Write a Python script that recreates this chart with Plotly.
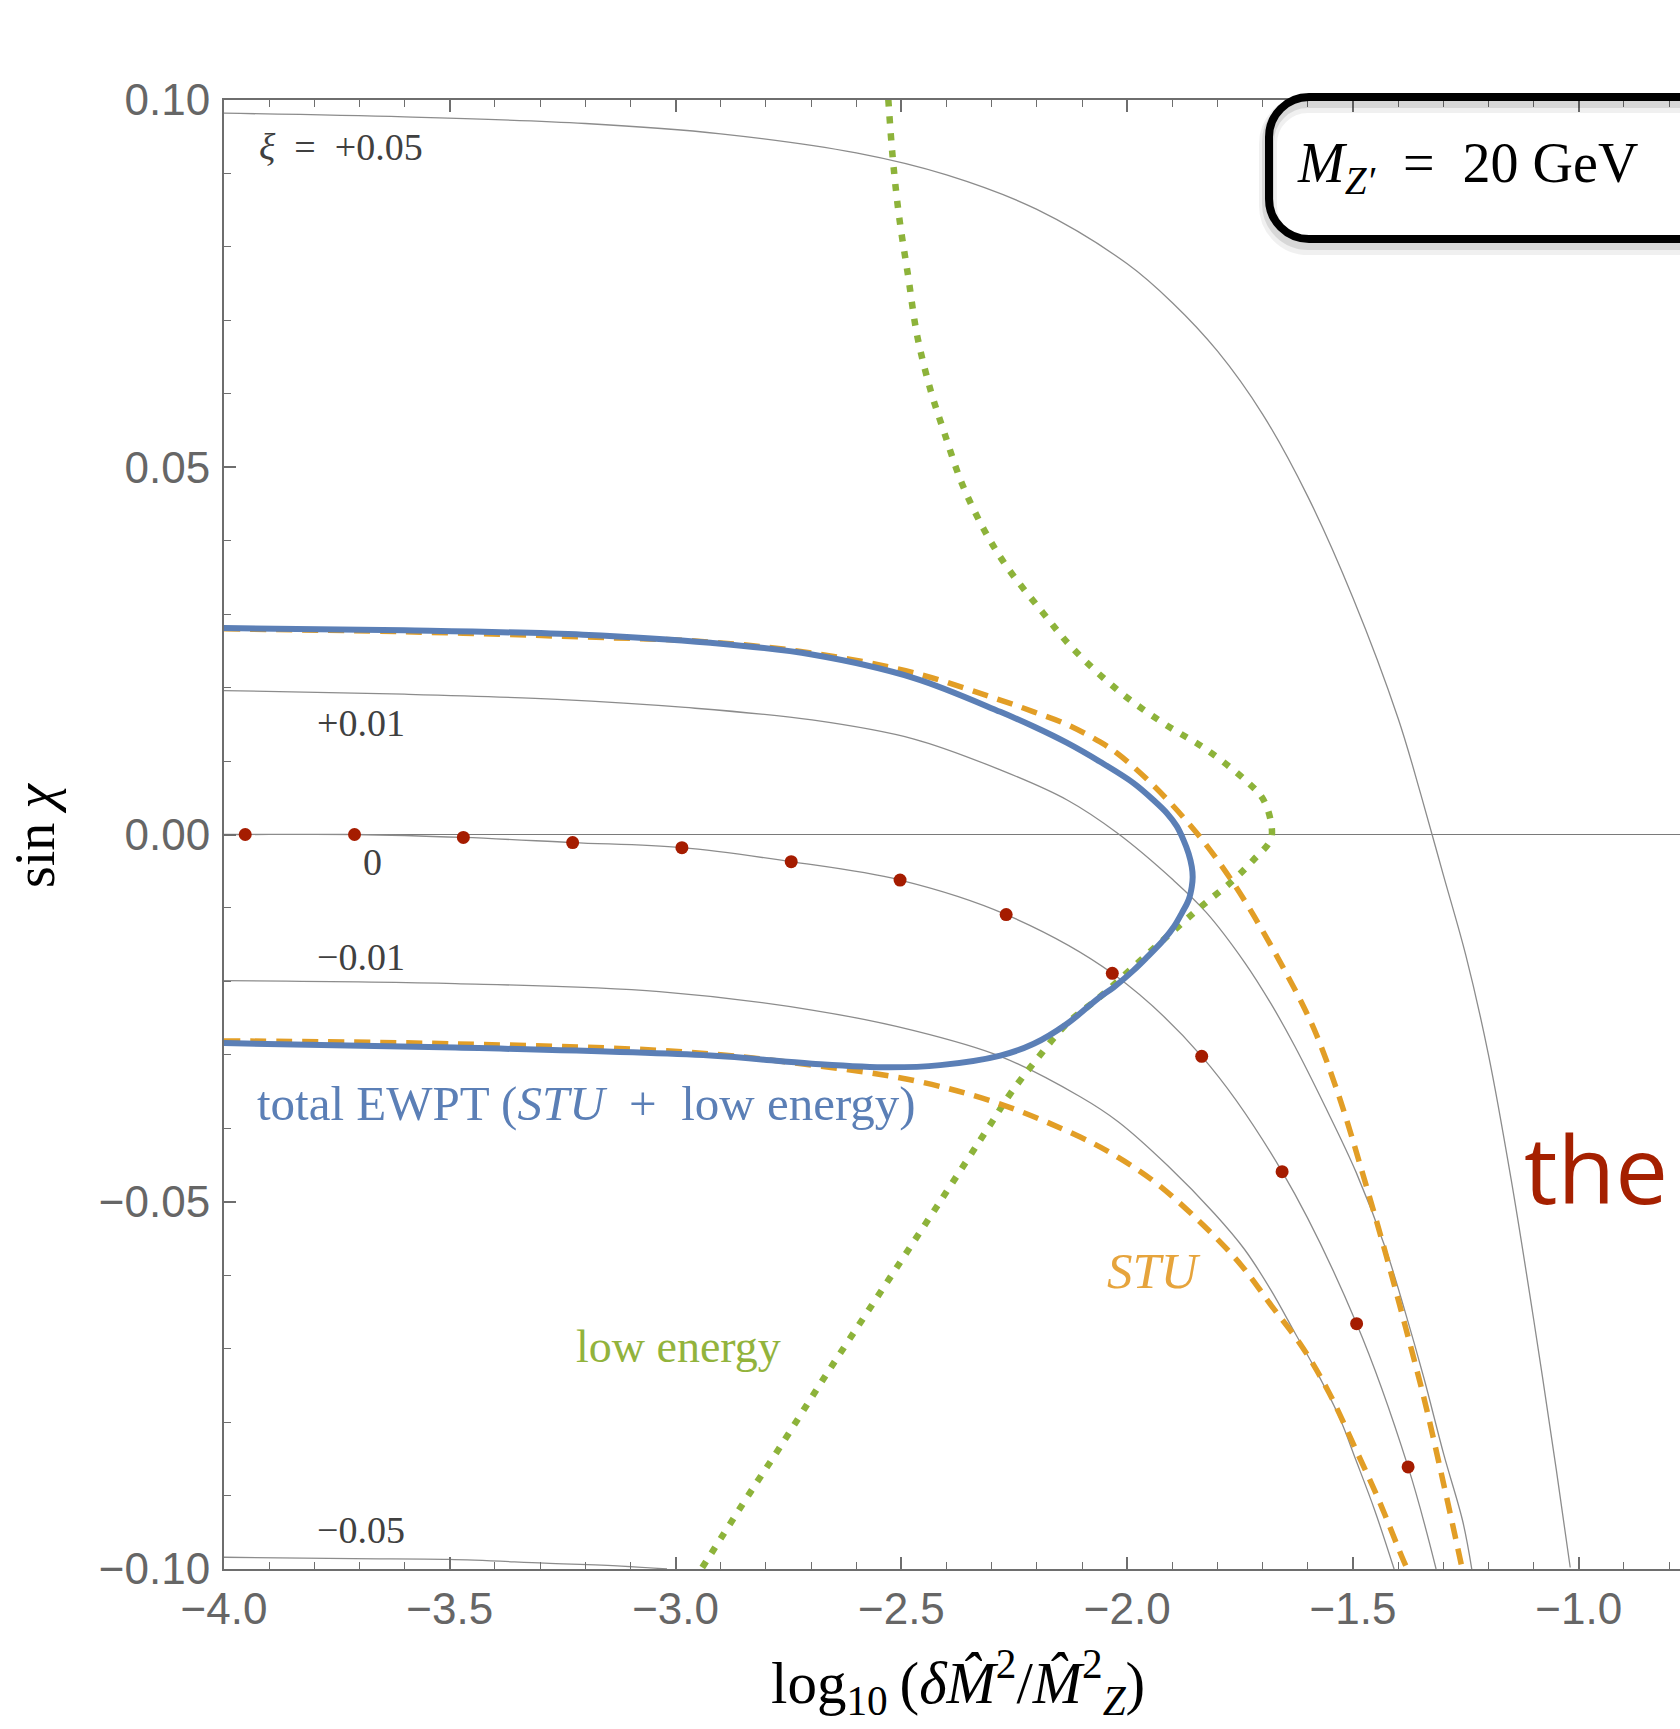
import plotly.graph_objects as go

# ---------------- data ----------------
x_tick_vals = [-4.0, -3.5, -3.0, -2.5, -2.0, -1.5, -1.0]
x_tick_text = ["\u22124.0", "\u22123.5", "\u22123.0", "\u22122.5", "\u22122.0", "\u22121.5", "\u22121.0"]
y_tick_vals = [0.10, 0.05, 0.00, -0.05, -0.10]
y_tick_text = ["0.10", "0.05", "0.00", "\u22120.05", "\u22120.10"]

# contours of constant xi (thin gray)
xi_p05_x = [-4.0, -3.6, -3.2, -2.9, -2.6, -2.4, -2.2, -2.0, -1.9, -1.8, -1.7, -1.6, -1.5, -1.4, -1.35,
            -1.3, -1.25, -1.2, -1.15, -1.1, -1.05, -1.019]
xi_p05_y = [0.0982, 0.0977, 0.0968, 0.0954, 0.0928, 0.0898, 0.0851, 0.0777, 0.0724, 0.0658, 0.0572, 0.0460,
            0.0322, 0.0158, 0.0055, -0.0055, -0.0165, -0.0300, -0.0469, -0.0660, -0.0864, -0.0998]

xi_p01_x = [-4.000, -3.601, -3.262, -2.979, -2.698, -2.472, -2.281, -2.133, -2.022, -1.898, -1.825,
            -1.739, -1.681, -1.630, -1.562, -1.493, -1.427, -1.385, -1.343, -1.299, -1.257, -1.237]
xi_p01_y = [0.0196, 0.0191, 0.0184, 0.0173, 0.0156, 0.0130, 0.0088, 0.0047, 0.0002, -0.0062, -0.0106,
            -0.0175, -0.0231, -0.0287, -0.0370, -0.0460, -0.0565, -0.0649, -0.0740, -0.0844, -0.0935, -0.1000]

xi_0_x = [-4.000, -3.953, -3.711, -3.470, -3.228, -2.986, -2.744, -2.503, -2.268, -2.033, -1.835,
          -1.657, -1.492, -1.378, -1.316]
xi_0_y = [0.0000, 0.0000, 0.0000, -0.0004, -0.0011, -0.0018, -0.0037, -0.0062, -0.0109, -0.0189, -0.0302,
          -0.0459, -0.0666, -0.0861, -0.1000]

xi_m01_x = [-4.000, -3.488, -3.036, -2.698, -2.472, -2.281, -2.104, -2.020, -1.910, -1.807, -1.740,
            -1.681, -1.630, -1.580, -1.529, -1.494, -1.452, -1.409]
xi_m01_y = [-0.0199, -0.0203, -0.0214, -0.0239, -0.0267, -0.0302, -0.0357, -0.0391, -0.0451, -0.0516, -0.0565,
            -0.0621, -0.0677, -0.0732, -0.0795, -0.0851, -0.0920, -0.1000]

xi_m05_x = [-4.000, -3.714, -3.502, -3.290, -3.120, -3.019]
xi_m05_y = [-0.0984, -0.0986, -0.0987, -0.0992, -0.0996, -0.1000]

# xi = 0 benchmark points (red dots)
dots_x = [-3.953, -3.711, -3.470, -3.228, -2.986, -2.744, -2.503, -2.268, -2.033, -1.835, -1.657, -1.492, -1.378]
dots_y = [0.0000, 0.0000, -0.0004, -0.0011, -0.0018, -0.0037, -0.0062, -0.0109, -0.0189, -0.0302, -0.0459, -0.0666, -0.0861]

# total EWPT contour (blue)
ewpt_x = [-4.000, -3.601, -3.205, -2.923, -2.698, -2.472, -2.281, -2.207, -2.134, -2.060, -1.986, -1.942,
          -1.912, -1.890, -1.875, -1.864, -1.857, -1.855, -1.857, -1.864, -1.879, -1.897, -1.920, -1.956,
          -1.986, -2.030, -2.060, -2.134, -2.207, -2.281, -2.414, -2.527, -2.698, -2.923, -3.488, -4.000]
ewpt_y = [0.0281, 0.0278, 0.0272, 0.0261, 0.0245, 0.0213, 0.0167, 0.0147, 0.0125, 0.0099, 0.0070, 0.0047,
          0.0029, 0.0011, -0.0008, -0.0026, -0.0044, -0.0058, -0.0071, -0.0089, -0.0107, -0.0126, -0.0144,
          -0.0167, -0.0185, -0.0208, -0.0221, -0.0258, -0.0285, -0.0301, -0.0314, -0.0317, -0.0312, -0.0301,
          -0.0290, -0.0284]

# STU contour (orange dashed), two branches
stu_up_x = [-4.000, -3.600, -3.205, -2.923, -2.697, -2.472, -2.281, -2.207, -2.134, -2.060, -2.023, -1.986,
            -1.949, -1.912, -1.875, -1.838, -1.801, -1.765, -1.728, -1.691, -1.654, -1.617, -1.580, -1.528,
            -1.477, -1.427, -1.384, -1.341, -1.299, -1.258]
stu_up_y = [0.0280, 0.0276, 0.0269, 0.0262, 0.0247, 0.0220, 0.0183, 0.0167, 0.0150, 0.0126, 0.0111, 0.0092,
            0.0071, 0.0048, 0.0023, -0.0004, -0.0034, -0.0066, -0.0102, -0.0141, -0.0182, -0.0225, -0.0274,
            -0.0362, -0.0465, -0.0572, -0.0670, -0.0772, -0.0885, -0.1000]
stu_lo_x = [-4.000, -3.488, -2.979, -2.698, -2.472, -2.281, -2.104, -2.019, -1.935, -1.833, -1.748, -1.680,
            -1.612, -1.553, -1.494, -1.443, -1.392, -1.380]
stu_lo_y = [-0.0281, -0.0285, -0.0296, -0.0314, -0.0335, -0.0367, -0.0412, -0.0440, -0.0475, -0.0531, -0.0586,
            -0.0642, -0.0698, -0.0760, -0.0837, -0.0906, -0.0983, -0.1000]

# low-energy contour (green dotted)
low_x = [-2.529, -2.519, -2.505, -2.485, -2.465, -2.435, -2.405, -2.366, -2.317, -2.267, -2.188, -2.120,
         -2.020, -1.921, -1.823, -1.733, -1.698, -1.680, -1.683, -1.721, -1.765, -1.838, -1.912, -1.986,
         -2.060, -2.134, -2.208, -2.259, -2.299, -2.421, -2.543, -2.664, -2.773, -2.835, -2.943]
low_y = [0.1001, 0.0920, 0.0841, 0.0760, 0.0679, 0.0604, 0.0547, 0.0478, 0.0415, 0.0365, 0.0303, 0.0253,
         0.0196, 0.0152, 0.0115, 0.0071, 0.0047, 0.0010, -0.0008, -0.0035, -0.0062, -0.0099, -0.0139, -0.0180,
         -0.0221, -0.0258, -0.0312, -0.0353, -0.0391, -0.0506, -0.0620, -0.0733, -0.0838, -0.0896, -0.1000]

contour_labels = ["<i>\u03be</i>\u2002=\u2002+0.05", "+0.01", "0", "\u22120.01", "\u22120.05"]

# ---------------- layout geometry (page pixels) ----------------
W, H = 1680, 1729
AX_L, AX_T, AX_B = 224, 100, 1569          # plot-area edges on the page
ML, MT, MR = AX_L, AX_T, 0
MB = H - AX_B
X0, XPPU = -4.0, 451.6                     # x pixels per unit
PW, PH = W - ML - MR, AX_B - AX_T
XMAX = X0 + PW / XPPU


def X(px):
    return X0 + (px - AX_L) / XPPU


def Y(py):
    return 0.1 - (py - AX_T) / PH * 0.2


def PX(px):
    return (px - AX_L) / PW


def PY(py):
    return (AX_B - py) / PH


SERIF = "Liberation Serif, DejaVu Serif, serif"
SANS = "Liberation Sans, Arial, sans-serif"
GRAY = "#8c8c8c"
BLUE = "#5b7fb6"
ORANGE = "#e29e26"
GREEN = "#8db33a"
RED = "#a51c00"

fig = go.Figure()

for xs, ys in [(xi_p05_x, xi_p05_y), (xi_p01_x, xi_p01_y), (xi_0_x, xi_0_y),
               (xi_m01_x, xi_m01_y), (xi_m05_x, xi_m05_y)]:
    fig.add_trace(go.Scatter(x=xs, y=ys, mode="lines", line=dict(color=GRAY, width=1.3, shape="spline"),
                             hoverinfo="skip"))

fig.add_trace(go.Scatter(x=low_x, y=low_y, mode="lines",
                         line=dict(color=GREEN, width=6.5, dash="7px,10px", shape="spline")))
fig.add_trace(go.Scatter(x=stu_up_x, y=stu_up_y, mode="lines",
                         line=dict(color=ORANGE, width=5.5, dash="16px,10px", shape="spline")))
fig.add_trace(go.Scatter(x=stu_lo_x, y=stu_lo_y, mode="lines",
                         line=dict(color=ORANGE, width=5.5, dash="16px,10px", shape="spline")))
fig.add_trace(go.Scatter(x=ewpt_x, y=ewpt_y, mode="lines",
                         line=dict(color=BLUE, width=6, shape="spline")))
fig.add_trace(go.Scatter(x=dots_x, y=dots_y, mode="markers",
                         marker=dict(color=RED, size=13, line=dict(width=0))))

axis_common = dict(showline=True, linecolor="#6e6e6e", linewidth=2, ticks="inside", ticklen=12,
                   tickwidth=1.5, tickcolor="#6e6e6e", showgrid=False,
                   tickfont=dict(family=SANS, size=44, color="#666666"))

fig.update_xaxes(range=[X0, XMAX], tickmode="array", tickvals=x_tick_vals, ticktext=x_tick_text,
                 mirror="allticks", zeroline=False, ticklabelstandoff=0,
                 minor=dict(ticks="inside", ticklen=7, tickwidth=1.2, tickcolor="#6e6e6e", dtick=0.1,
                            tick0=-4.0, showgrid=False),
                 **axis_common)
fig.update_yaxes(range=[-0.1, 0.1], tickmode="array", tickvals=y_tick_vals, ticktext=y_tick_text,
                 mirror=False, zeroline=True, zerolinecolor="#7a7a7a", zerolinewidth=1.3,
                 ticklabelstandoff=3,
                 minor=dict(ticks="inside", ticklen=7, tickwidth=1.2, tickcolor="#6e6e6e", dtick=0.01,
                            tick0=0.0, showgrid=False),
                 **axis_common)

ann = []
lab_pos = [(257, 147), (315, 723), (361, 862), (315, 957), (315, 1530)]
for txt, (px, py) in zip(contour_labels, lab_pos):
    ann.append(dict(x=X(px), y=Y(py), text=txt, xanchor="left", yanchor="middle", showarrow=False,
                    font=dict(family=SERIF, size=38, color="#404040")))

ann.append(dict(x=X(255), y=Y(1103), text="total EWPT (<i>STU</i>\u2002+\u2002low energy)", xanchor="left",
                yanchor="middle", showarrow=False, font=dict(family=SERIF, size=49, color=BLUE)))
ann.append(dict(x=X(1105), y=Y(1271), text="<i>STU</i>", xanchor="left", yanchor="middle",
                showarrow=False, font=dict(family=SERIF, size=51, color="#e6a43c")))
ann.append(dict(x=X(574), y=Y(1346), text="low energy", xanchor="left", yanchor="middle",
                showarrow=False, font=dict(family=SERIF, size=46, color="#92b33c")))
ann.append(dict(x=X(1467), y=Y(167), text="<i>M</i><sub><i>Z\u2032</i></sub>\u2002=\u200220 GeV", xanchor="center",
                yanchor="middle", showarrow=False, font=dict(family=SERIF, size=56, color="black")))
ann.append(dict(x=X(1596), y=Y(1168), text="the", xanchor="center", yanchor="middle", showarrow=False,
                font=dict(family="Open Sans, Noto Sans, sans-serif", size=94, color="#a52000")))

# axis titles (paper coordinates so they are not hidden outside the axis ranges)
ann.append(dict(xref="paper", yref="paper", x=PX(958), y=PY(1682),
                text="log<sub>10</sub>\u2009(<i>\u03b4M\u0302</i><sup>2</sup>/<i>M\u0302</i><sup>2</sup><sub><i>Z</i></sub>)",
                xanchor="center", yanchor="middle", showarrow=False,
                font=dict(family=SERIF, size=59, color="black")))
ann.append(dict(xref="paper", yref="paper", x=PX(35), y=PY(835), text="sin <i>\u03c7</i>",
                xanchor="center", yanchor="middle", textangle=-90, showarrow=False,
                font=dict(family=SERIF, size=56, color="black")))

# rounded label box (cropped at right edge) with soft shadow
bl, bt, bb, br, rad = 1269, 97, 239, 1730, 40
k = 0.552 * rad


def box_path(dx=0, dy=0):
    l, t, b, r = bl + dx, bt + dy, bb + dy, br + dx
    return (f"M {PX(r)},{PY(t)} L {PX(l + rad)},{PY(t)} "
            f"C {PX(l + rad - k)},{PY(t)} {PX(l)},{PY(t + rad - k)} {PX(l)},{PY(t + rad)} "
            f"L {PX(l)},{PY(b - rad)} "
            f"C {PX(l)},{PY(b - rad + k)} {PX(l + rad - k)},{PY(b)} {PX(l + rad)},{PY(b)} "
            f"L {PX(r)},{PY(b)}")


shapes = [
    dict(type="path", xref="paper", yref="paper", path=box_path(-1, 7),
         line=dict(color="rgba(0,0,0,0.06)", width=18)),
    dict(type="path", xref="paper", yref="paper", path=box_path(-1, 5),
         line=dict(color="rgba(0,0,0,0.10)", width=12)),
    dict(type="path", xref="paper", yref="paper", path=box_path(),
         line=dict(color="black", width=8)),
]

fig.update_layout(width=W, height=H, margin=dict(l=ML, r=MR, t=MT, b=MB, pad=0),
                  plot_bgcolor="white", paper_bgcolor="white", showlegend=False,
                  annotations=ann, shapes=shapes)

# remove the browser's default 8px body margin so the figure fills the window exactly
fig.write_html("out.html", config={"displayModeBar": False},
               post_script="document.body.style.margin='0px';")
